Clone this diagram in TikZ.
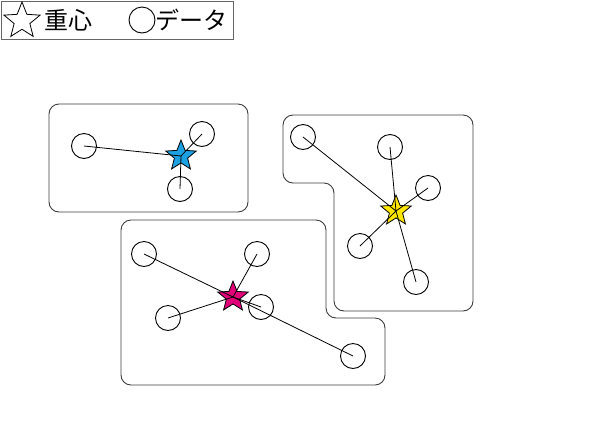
\documentclass[tikz,border=0pt]{standalone}
\usepackage{fontspec}
\setmainfont{Noto Sans CJK JP}
\usetikzlibrary{shapes.geometric}

\definecolor{starblue}{RGB}{27,161,226}
\definecolor{staryellow}{RGB}{255,230,0}
\definecolor{starmagenta}{RGB}{225,0,120}
\definecolor{edgegray}{RGB}{60,60,60}

\tikzset{
  datum/.style={circle, draw, line width=0.9pt, minimum size=25pt, inner sep=0pt},
  centroid/.style={star, star points=5, star point ratio=2.3, minimum size=32pt, inner sep=0pt, draw, line width=0.8pt},
  cluster/.style={draw=edgegray, line width=0.9pt, rounded corners=10pt},
  link/.style={line width=0.8pt}
}

\begin{document}
\begin{tikzpicture}[x=1pt, y=-1pt]
    \useasboundingbox (0,0) rectangle (596,421);

    % Legend
    \draw[draw=gray!80!black, line width=1pt] (1,1) rectangle (233,39);
    \node[centroid, fill=white, minimum size=38pt] (legstar) at (22,21) {};
    \node[anchor=west, font=\fontsize{24}{26}\selectfont, inner sep=0pt] (legstartext) at (44,20) {重心};
    \node[datum, minimum size=26pt] (legdatum) at (142,20) {};
    \node[anchor=west, font=\fontsize{24}{26}\selectfont, inner sep=0pt] (legdatumtext) at (155,20) {データ};

    % Cluster outlines
    \draw[cluster] (49,104) rectangle (248,212);
    \draw[cluster] (283,115) -- (473,115) -- (473,311) -- (334,311) -- (334,183) -- (283,183) -- cycle;
    \draw[cluster] (121,220) -- (326,220) -- (326,318) -- (385,318) -- (385,385) -- (121,385) -- cycle;

    % Blue cluster
    \node[centroid, fill=starblue] (cb) at (181,156) {};
    \node[datum] (b1) at (84,146) {};
    \node[datum] (b2) at (202,134) {};
    \node[datum] (b3) at (180,189) {};

    % Yellow cluster
    \node[centroid, fill=staryellow] (cy) at (396,211) {};
    \node[datum] (y1) at (303,137) {};
    \node[datum] (y2) at (390,147) {};
    \node[datum] (y3) at (428,188) {};
    \node[datum] (y4) at (360,246) {};
    \node[datum] (y5) at (416,282) {};

    % Magenta cluster
    \node[centroid, fill=starmagenta] (cm) at (233,297) {};
    \node[datum] (m1) at (144,254) {};
    \node[datum] (m2) at (257,254) {};
    \node[datum] (m3) at (168,318) {};
    \node[datum] (m4) at (261,307) {};
    \node[datum] (m5) at (353,356) {};

    % Links from data to centroids
    \foreach \d in {b1,b2,b3} \draw[link] (\d.center) -- (cb.center);
    \foreach \d in {y1,y2,y3,y4,y5} \draw[link] (\d.center) -- (cy.center);
    \foreach \d in {m1,m2,m3,m4,m5} \draw[link] (\d.center) -- (cm.center);

\end{tikzpicture}
\end{document}
